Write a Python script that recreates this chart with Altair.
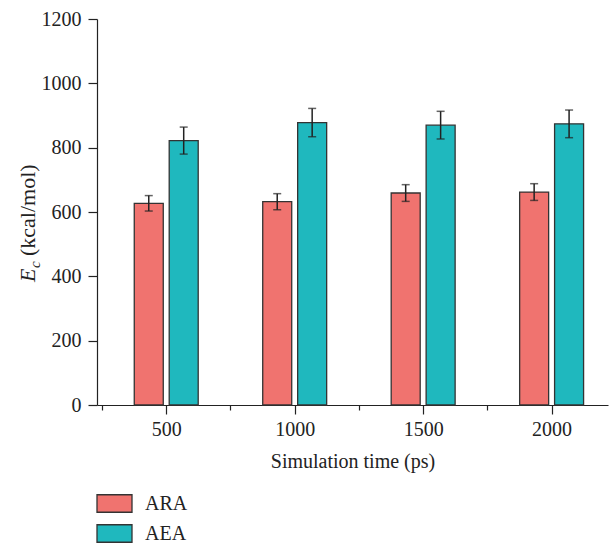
import altair as alt
import pandas as pd

# ---- data ----
times = [500, 1000, 1500, 2000]
series_names = ["ARA", "AEA"]
ara_vals = [627, 632, 659, 662]
ara_err = [24, 25, 26, 26]
aea_vals = [822, 878, 870, 874]
aea_err = [42, 44, 43, 43]
y_ticks = list(range(0, 1201, 100))
x_ticks = [250, 500, 750, 1000, 1250, 1500, 1750, 2000]
colors = ["#F0736F", "#1FB8BE"]

rows = []
for t, v, e in zip(times, ara_vals, ara_err):
    rows.append({"time": t, "series": "ARA", "value": v, "err": e})
for t, v, e in zip(times, aea_vals, aea_err):
    rows.append({"time": t, "series": "AEA", "value": v, "err": e})
df = pd.DataFrame(rows)

W, H = 511, 386
FONT = "Liberation Serif"
INK = "#222222"

base = alt.Chart(df).transform_calculate(
    pos="datum.time + (datum.series == 'ARA' ? -68 : 68)",
    lo="datum.value - datum.err",
    hi="datum.value + datum.err",
)

x_enc = alt.X(
    "pos:Q",
    scale=alt.Scale(domain=[250, 2200], nice=False, zero=False),
    axis=alt.Axis(
        values=x_ticks,
        format="d",
        labelExpr="datum.value % 500 == 0 ? datum.label : ''",
        tickSize={"condition": {"test": "datum.value % 500 != 0", "value": 5}, "value": 9},
        title="Simulation time (ps)",
        titlePadding=12,
        labelPadding=5,
        grid=False,
    ),
)
y_scale = alt.Scale(domain=[0, 1200], nice=False)

bars = base.mark_bar(width=29, stroke="#333333", strokeWidth=1.3).encode(
    x=x_enc,
    y=alt.Y(
        "value:Q",
        scale=y_scale,
        axis=alt.Axis(
            values=y_ticks,
            format="d",
            labelExpr="datum.value % 200 == 0 ? datum.label : ''",
            tickSize={"condition": {"test": "datum.value % 200 != 0", "value": 5}, "value": 9},
            labelPadding=7,
            title=None,
            grid=False,
        ),
    ),
    fill=alt.Fill(
        "series:N",
        scale=alt.Scale(domain=series_names, range=colors),
        sort=series_names,
        legend=alt.Legend(
            title=None,
            orient="none",
            legendX=-1,
            legendY=466,
            direction="vertical",
            symbolType="M-1,-0.5H1V0.5H-1Z",
            symbolSize=1225,
            symbolStrokeColor="#333333",
            symbolStrokeWidth=1.3,
            symbolOpacity=1,
            labelFont=FONT,
            labelFontSize=20,
            labelColor=INK,
            labelOffset=12,
            rowPadding=-13,
        ),
    ),
)

err_rule = base.mark_rule(color=INK, strokeWidth=1.5).encode(
    x="pos:Q", y=alt.Y("lo:Q", scale=y_scale), y2="hi:Q"
)
cap_hi = base.mark_tick(color=INK, thickness=1.5, size=8, orient="horizontal").encode(
    x="pos:Q", y=alt.Y("hi:Q", scale=y_scale)
)
cap_lo = base.mark_tick(color=INK, thickness=1.5, size=8, orient="horizontal").encode(
    x="pos:Q", y=alt.Y("lo:Q", scale=y_scale)
)

# y-axis title with italic E and subscript c
title_df = pd.DataFrame({"k": [0]})
t_E = alt.Chart(title_df).mark_text(
    text="E", font=FONT, fontStyle="italic", fontSize=22, angle=270,
    align="left", baseline="alphabetic", color=INK,
).encode(x=alt.value(-62), y=alt.value(263))
t_c = alt.Chart(title_df).mark_text(
    text="c", font=FONT, fontStyle="italic", fontSize=15, angle=270,
    align="left", baseline="alphabetic", color=INK,
).encode(x=alt.value(-57), y=alt.value(249))
t_rest = alt.Chart(title_df).mark_text(
    text="(kcal/mol)", font=FONT, fontSize=22, angle=270,
    align="left", baseline="alphabetic", color=INK,
).encode(x=alt.value(-62), y=alt.value(237))

chart = alt.layer(bars, err_rule, cap_hi, cap_lo, t_E, t_c, t_rest).properties(
    width=W,
    height=H,
    autosize=alt.AutoSizeParams(type="none"),
    padding={"left": 97, "top": 19, "right": 3, "bottom": 138},
).configure_view(stroke=None).configure_axis(
    labelFont=FONT,
    labelFontSize=20,
    labelColor=INK,
    titleFont=FONT,
    titleFontSize=20,
    titleColor=INK,
    titleFontWeight="normal",
    domainColor=INK,
    domainWidth=1.2,
    tickColor=INK,
    tickWidth=1.2,
)

chart.save("out.html", embed_options={"renderer": "svg", "actions": False})
